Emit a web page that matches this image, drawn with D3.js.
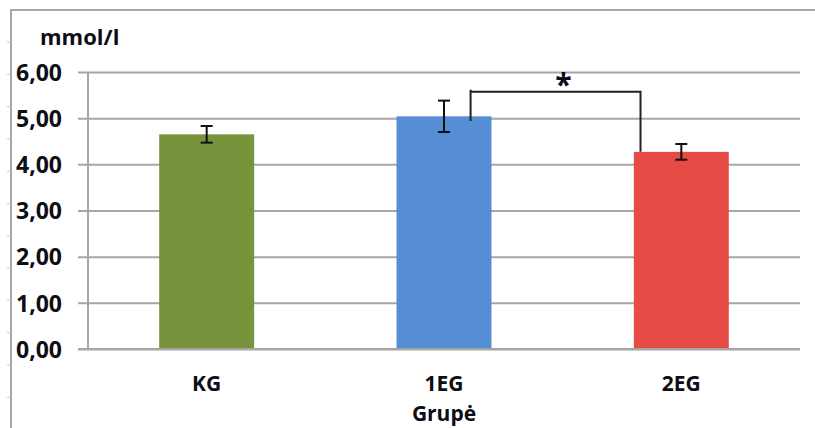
<!DOCTYPE html>
<html>
<head>
<meta charset="utf-8">
<script src="https://cdn.jsdelivr.net/npm/d3@7"></script>
<style>
  html, body { margin: 0; padding: 0; background: #fff; }
  svg { display: block; }
  text { font-family: "Open Sans", Lato, sans-serif; font-weight: bold; fill: #0d0d14; }
</style>
</head>
<body>
<svg id="chart" width="815" height="428"></svg>
<script>
// Glucose level by group (mean ± error)
const categories = ["KG", "1EG", "2EG"];
const means = [4.65, 5.04, 4.27];
const errors = [0.18, 0.34, 0.17];
const colors = ["#77933C", "#558ED5", "#E64B45"];
const yTicks = [0, 1, 2, 3, 4, 5, 6];
const yUnit = "mmol/l";
const xTitle = "Grupė";
// significance bracket between 1EG and 2EG
const sigPair = ["1EG", "2EG"];
const sigTop = 5.57;
const sigLeftEnd = 4.94;
const sigMark = "*";

const svg = d3.select("#chart");
const W = 815, H = 428;
const plot = { left: 88, right: 800, top: 72, bottom: 349 };

// outer frame (left and top edges)
svg.append("path")
  .attr("d", `M11,${H} V10 H${W}`)
  .attr("fill", "none").attr("stroke", "#a6a6a6").attr("stroke-width", 2);
d3.range(42, H, 32.3).forEach(y => {
  svg.append("line").attr("x1", 7).attr("x2", 11).attr("y1", y).attr("y2", y)
    .attr("stroke", "#c8c8c8").attr("stroke-width", 1);
});

const x = d3.scaleBand().domain(categories).range([plot.left, plot.right]).paddingInner(0.6).paddingOuter(0.3);
const y = d3.scaleLinear().domain([0, 6]).range([plot.bottom, plot.top]);

// horizontal gridlines with outside ticks
const yAxis = d3.axisLeft(y).tickValues(yTicks)
  .tickSize(-(plot.right - plot.left))
  .tickFormat(d => d3.format(".2f")(d).replace(".", ","));
const gy = svg.append("g").attr("transform", `translate(${plot.left},0)`).call(yAxis);
gy.select(".domain").remove();
gy.selectAll(".tick line").attr("x1", -10).attr("stroke", "#a6a6a6").attr("stroke-width", 2);
gy.selectAll(".tick text").attr("x", -26).attr("dy", "0.36em").style("font-size", "23px");

// y axis line
svg.append("line").attr("x1", plot.left).attr("x2", plot.left)
  .attr("y1", plot.top).attr("y2", plot.bottom)
  .attr("stroke", "#a6a6a6").attr("stroke-width", 2);

// bars
svg.selectAll("rect.bar").data(categories).join("rect")
  .attr("class", "bar")
  .attr("x", d => x(d))
  .attr("width", x.bandwidth())
  .attr("y", (d, i) => y(means[i]))
  .attr("height", (d, i) => y(0) - y(means[i]))
  .attr("fill", (d, i) => colors[i]);

// error bars
const cap = 6;
categories.forEach((c, i) => {
  const cx = x(c) + x.bandwidth() / 2;
  const g = svg.append("g").attr("stroke", "#111").attr("stroke-width", 2);
  g.append("line").attr("x1", cx).attr("x2", cx).attr("y1", y(means[i] + errors[i])).attr("y2", y(means[i] - errors[i]));
  g.append("line").attr("x1", cx - cap).attr("x2", cx + cap).attr("y1", y(means[i] + errors[i])).attr("y2", y(means[i] + errors[i]));
  g.append("line").attr("x1", cx - cap).attr("x2", cx + cap).attr("y1", y(means[i] - errors[i])).attr("y2", y(means[i] - errors[i]));
});

// x axis baseline on top of bars
svg.append("line").attr("x1", plot.left - 10).attr("x2", plot.right)
  .attr("y1", y(0)).attr("y2", y(0)).attr("stroke", "#a6a6a6").attr("stroke-width", 2);

// category labels
svg.selectAll("text.cat").data(categories).join("text")
  .attr("class", "cat")
  .attr("x", d => x(d) + x.bandwidth() / 2)
  .attr("y", 391)
  .attr("text-anchor", "middle")
  .style("font-size", "21px")
  .text(d => d);

svg.append("text").attr("x", x("1EG") + x.bandwidth() / 2).attr("y", 421)
  .attr("text-anchor", "middle").style("font-size", "21px").text(xTitle);

svg.append("text").attr("x", 40).attr("y", 45).style("font-size", "22px").text(yUnit);

// significance bracket
const i2 = categories.indexOf(sigPair[1]);
const bx1 = x(sigPair[0]) + x.bandwidth() * 0.78;
const bx2 = x(sigPair[1]) + x.bandwidth() * 0.07;
svg.append("path")
  .attr("d", `M${bx1},${y(sigLeftEnd)} V${y(sigTop) - 2} M${bx1},${y(sigTop)} H${bx2} V${y(means[i2])}`)
  .attr("fill", "none").attr("stroke", "#222").attr("stroke-width", 2);
svg.append("text").attr("x", (bx1 + bx2) / 2 + 8).attr("y", y(sigTop) + 3)
  .attr("text-anchor", "middle").style("font-size", "30px").text(sigMark);
</script>
</body>
</html>
